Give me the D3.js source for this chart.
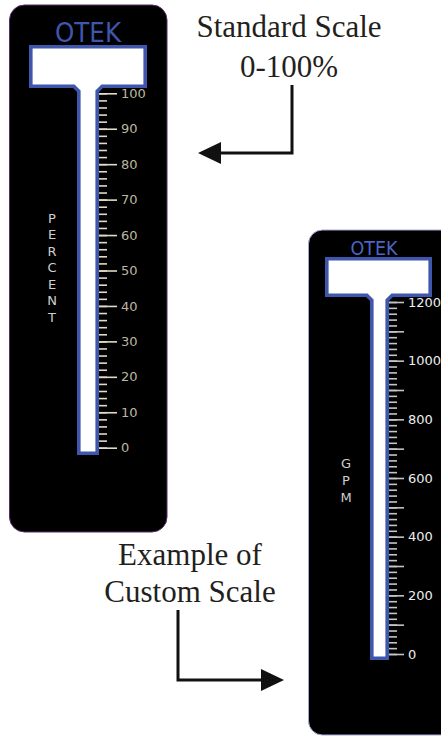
<!DOCTYPE html>
<html><head><meta charset="utf-8">
<script src="https://cdn.jsdelivr.net/npm/d3@7"></script>
<style>html,body{margin:0;padding:0;background:#fff}svg{display:block}</style>
</head><body>
<svg id="c" width="441" height="737"></svg>
<script>
// ---- data ----
const brand = "OTEK";
const leftUnit = "PERCENT";
const rightUnit = "GPM";
const leftDomain = [0, 100];
const leftLabeledTicks = [0, 10, 20, 30, 40, 50, 60, 70, 80, 90, 100];
const rightDomain = [0, 1200];
const rightLabeledTicks = [0, 200, 400, 600, 800, 1000, 1200];
const rightMidTicks = [100, 300, 500, 700, 900, 1100];
const topNote = ["Standard Scale", "0-100%"];
const bottomNote = ["Example of", "Custom Scale"];

const svg = d3.select("#c");
const BLUE = "#3f56ad";

function gauge(g, o) {
  // panel
  g.append("rect").attr("x", o.px).attr("y", o.py).attr("width", o.pw).attr("height", o.ph)
    .attr("rx", o.pr).attr("fill", "#000").attr("stroke", o.edge).attr("stroke-width", 1);
  // brand
  g.append("text").attr("x", o.bx).attr("y", o.by).attr("text-anchor", "middle")
    .attr("font-family", "DejaVu Sans").attr("font-size", o.bs).attr("font-weight", 400)
    .attr("textLength", o.bl).attr("lengthAdjust", "spacingAndGlyphs")
    .attr("fill", o.bc).text(brand);
  // T shaped tube
  const s = o.sw / 2, c = 5;
  const L = o.tx0 + s, R = o.tx1 - s, T = o.ty0 + s, B = o.ty1 - s;
  const sl = o.sx0 + s, sr = o.sx1 - s, sb = o.sb - s;
  const p = `M${L},${T}H${R}V${B}H${sr + c}L${sr},${B + c}V${sb}H${sl}V${B + c}L${sl - c},${B}H${L}Z`;
  g.append("path").attr("d", p).attr("fill", "#fff").attr("stroke", BLUE)
    .attr("stroke-width", o.sw).attr("stroke-linejoin", "miter");
  // axis
  const y = d3.scaleLinear().domain(o.domain).range(o.range);
  const ax = g.append("g").attr("transform", `translate(${o.sx1},0)`);
  const styleLines = a => a.selectAll("line").attr("stroke", o.tickColor).attr("stroke-width", 1.6);
  ax.append("g").call(d3.axisRight(y).tickValues(y.ticks(o.minorCount)).tickSize(o.minorLen).tickFormat(""))
    .call(a => a.select(".domain").remove()).call(styleLines);
  if (o.mid) {
    ax.append("g").call(d3.axisRight(y).tickValues(o.mid).tickSize(o.majorLen).tickFormat(""))
      .call(a => a.select(".domain").remove()).call(styleLines);
  }
  ax.append("g").call(d3.axisRight(y).tickValues(o.labeled).tickSize(o.majorLen).tickPadding(4).tickFormat(d3.format("d")))
    .call(a => a.select(".domain").remove()).call(styleLines)
    .call(a => a.selectAll("text").attr("fill", o.labelColor).attr("font-family", "DejaVu Sans")
      .attr("font-size", 13));
  // unit letters
  g.append("g").selectAll("text").data(o.unit.split("")).join("text")
    .attr("x", o.ux).attr("y", (d, i) => o.uy + i * o.up).attr("text-anchor", "middle")
    .attr("font-family", "DejaVu Sans").attr("font-size", 13)
    .attr("fill", "#cfcfcf").text(d => d);
}

gauge(svg.append("g"), {
  px: 9.5, py: 5, pw: 157.5, ph: 527, pr: 15, edge: "#5b2a68",
  bx: 88, by: 42, bs: 26, bl: 66, bc: "#3f56ad",
  tx0: 29, tx1: 147, ty0: 45, ty1: 88, sx0: 77, sx1: 99, sb: 455, sw: 3.6,
  domain: leftDomain, range: [447.7, 93.3], minorCount: 50, labeled: leftLabeledTicks,
  minorLen: 8, majorLen: 18, tickColor: "#e2dac2", labelColor: "#bdb6a0",
  unit: leftUnit, ux: 52, uy: 222.8, up: 16.5
});

gauge(svg.append("g"), {
  px: 308.5, py: 230, pw: 150, ph: 505, pr: 14, edge: "#a4a8d8",
  bx: 374, by: 255, bs: 20, bl: 47, bc: "#4d66c4",
  tx0: 325, tx1: 432, ty0: 257, ty1: 297, sx0: 370, sx1: 389, sb: 660, sw: 3.6,
  domain: rightDomain, range: [654, 302], minorCount: 60, labeled: rightLabeledTicks, mid: rightMidTicks,
  minorLen: 8, majorLen: 15, tickColor: "#c4c4c4", labelColor: "#eeeeee",
  unit: rightUnit, ux: 346, uy: 467.5, up: 17
});

// annotations
function note(lines, cx, y0, dy) {
  svg.append("g").selectAll("text").data(lines).join("text")
    .attr("x", cx).attr("y", (d, i) => y0 + i * dy).attr("text-anchor", "middle")
    .attr("font-family", "Liberation Serif").attr("font-size", 31).attr("fill", "#231f20").text(d => d);
}
note(topNote, 289, 37, 40);
note(bottomNote, 190, 565, 37);

svg.append("path").attr("d", "M292,85V153H218").attr("fill", "none").attr("stroke", "#111").attr("stroke-width", 3);
svg.append("path").attr("d", "M198,153L221,142V164Z").attr("fill", "#111");
svg.append("path").attr("d", "M178,610V680H263").attr("fill", "none").attr("stroke", "#111").attr("stroke-width", 3);
svg.append("path").attr("d", "M284,680L261,669V691Z").attr("fill", "#111");
</script>
</body></html>
